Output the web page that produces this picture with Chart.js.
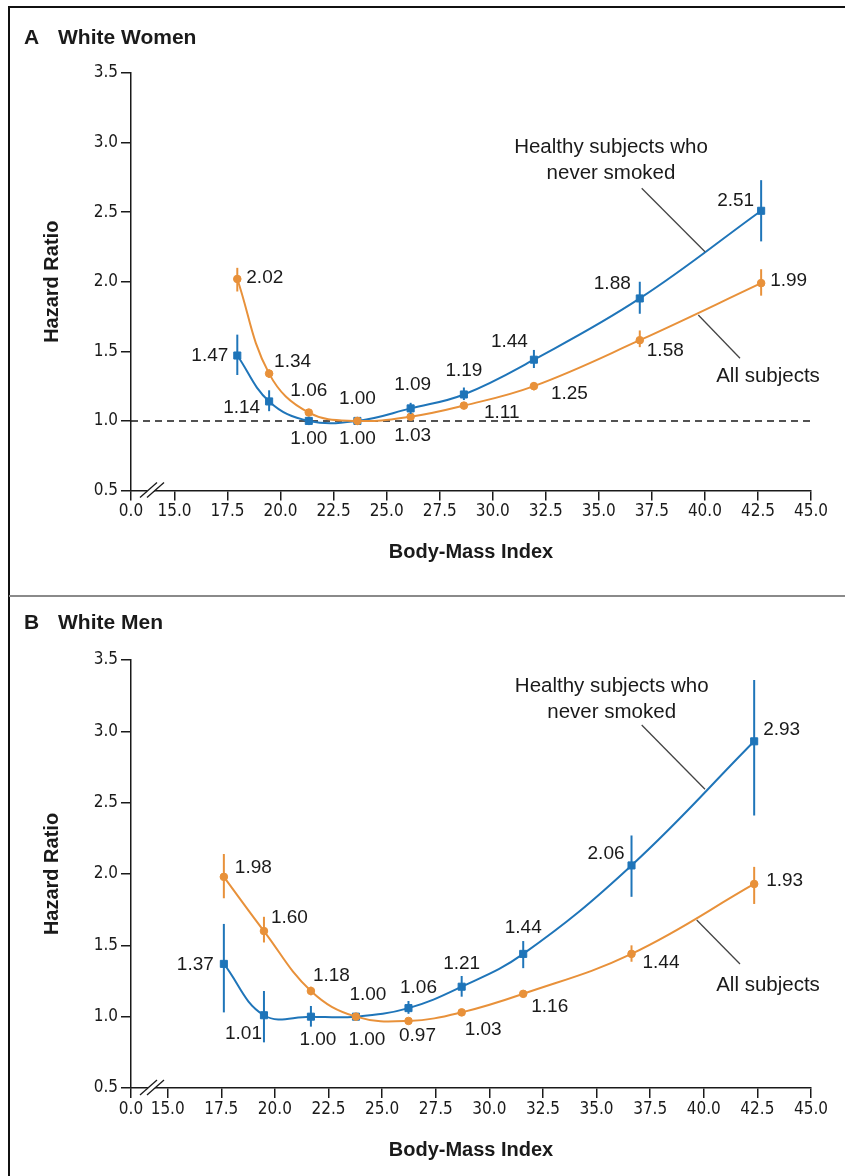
<!DOCTYPE html>
<html>
<head>
<meta charset="utf-8">
<script src="https://cdn.jsdelivr.net/npm/chart.js@4.4.1/dist/chart.umd.min.js"></script>
<style>
  body { margin: 0; background: #fff; }
  #wrap { position: relative; width: 845px; height: 1176px; overflow: hidden; }
  canvas { position: absolute; left: 0; }
  #cA { top: 0; }
  #cB { top: 596px; }
  .ln { position: absolute; background: #111; }
</style>
</head>
<body>
<div id="wrap">
  <canvas id="cA" width="845" height="596"></canvas>
  <canvas id="cB" width="845" height="580"></canvas>
  <div class="ln" style="left:8px;top:6px;width:837px;height:2px"></div>
  <div class="ln" style="left:8px;top:6px;width:2px;height:1170px"></div>
  <div class="ln" style="left:9px;top:595px;width:836px;height:2px;background:#8a8a8a"></div>
</div>
<script>
// axis ticks
const xTicks = [15.0, 17.5, 20.0, 22.5, 25.0, 27.5, 30.0, 32.5, 35.0, 37.5, 40.0, 42.5, 45.0];
const xBreakLabel = '0.0';
const yTicks = [0.5, 1.0, 1.5, 2.0, 2.5, 3.0, 3.5];

// A - white women
const bmiWomen       = [17.96, 19.46, 21.33, 23.62, 26.13, 28.64, 31.94, 36.93, 42.65];
const healthyWomen   = [1.47, 1.14, 1.00, 1.00, 1.09, 1.19, 1.44, 1.88, 2.51];
const healthyWomenLo = [1.33, 1.07, 0.97, null, 1.05, 1.15, 1.38, 1.77, 2.29];
const healthyWomenHi = [1.62, 1.22, 1.03, null, 1.13, 1.24, 1.51, 2.00, 2.73];
const allWomen       = [2.02, 1.34, 1.06, 1.00, 1.03, 1.11, 1.25, 1.58, 1.99];
const allWomenLo     = [1.93, 1.31, 1.04, null, 1.02, 1.09, 1.22, 1.53, 1.90];
const allWomenHi     = [2.10, 1.37, 1.08, null, 1.04, 1.13, 1.28, 1.65, 2.09];

// B - white men
const bmiMen       = [17.62, 19.49, 21.68, 23.78, 26.23, 28.71, 31.58, 36.63, 42.35];
const healthyMen   = [1.37, 1.01, 1.00, 1.00, 1.06, 1.21, 1.44, 2.06, 2.93];
const healthyMenLo = [1.03, 0.82, 0.93, null, 1.02, 1.14, 1.34, 1.84, 2.41];
const healthyMenHi = [1.65, 1.18, 1.075, null, 1.11, 1.285, 1.53, 2.27, 3.36];
const allMen       = [1.98, 1.60, 1.18, 1.00, 0.97, 1.03, 1.16, 1.44, 1.93];
const allMenLo     = [1.83, 1.52, 1.15, null, 0.96, 1.01, 1.14, 1.385, 1.79];
const allMenHi     = [2.14, 1.70, 1.21, null, 0.98, 1.05, 1.18, 1.50, 2.05];

// value label placement next to each marker: [dx, dy, align]
const healthyWomenLabelAt = [[-9,0,'right'],[-9,6,'right'],[0,18,'center'],[0,-22,'center'],[2,-24,'center'],[0,-24,'center'],[-6,-18,'right'],[-9,-15,'right'],[-7,-10,'right']];
const allWomenLabelAt = [[9,-1,'left'],[5,-12,'left'],[0,-22,'center'],[0,18,'center'],[2,19,'center'],[20,7,'left'],[17,8,'left'],[7,11,'left'],[9,-2,'left']];
const healthyMenLabelAt = [[-10,1,'right'],[-2,19,'right'],[7,23,'center'],[12,-22,'center'],[10,-20,'center'],[0,-23,'center'],[0,-26,'center'],[-7,-12,'right'],[9,-12,'left']];
const allMenLabelAt = [[11,-9,'left'],[7,-13,'left'],[2,-15,'left'],[11,23,'center'],[9,15,'center'],[3,17,'left'],[8,13,'left'],[11,9,'left'],[12,-3,'left']];

const BLUE = '#1f75b9';
const ORANGE = '#e8913a';
const INK = '#1a1a1a';
const SANS = "'Liberation Sans', Arial, sans-serif";
const NARROW = "'Liberation Sans Narrow', 'DejaVu Sans Condensed', sans-serif";

const decor = {
  id: 'decor',
  beforeDatasetsDraw(chart, args, o) {
    if (!o.refLine) return;
    const { ctx, chartArea: a, scales: { y } } = chart;
    const py = y.getPixelForValue(1);
    ctx.save();
    ctx.strokeStyle = INK;
    ctx.lineWidth = 1.5;
    ctx.setLineDash([7, 5]);
    ctx.beginPath();
    ctx.moveTo(a.left, py);
    ctx.lineTo(a.right + 2, py);
    ctx.stroke();
    ctx.restore();
  },
  afterDatasetsDraw(chart) {
    const { ctx, scales: { x, y } } = chart;
    chart.data.datasets.forEach(ds => {
      ctx.save();
      ctx.strokeStyle = ds.borderColor;
      ctx.lineWidth = 2;
      ds.lo.forEach((lo, j) => {
        if (lo == null) return;
        const px = x.getPixelForValue(ds.data[j].x);
        ctx.beginPath();
        ctx.moveTo(px, y.getPixelForValue(lo));
        ctx.lineTo(px, y.getPixelForValue(ds.hi[j]));
        ctx.stroke();
      });
      ctx.restore();
    });
  },
  afterDraw(chart, args, o) {
    const { ctx, chartArea: a } = chart;
    ctx.save();
    // value labels
    ctx.fillStyle = INK;
    ctx.font = '19px ' + SANS;
    ctx.textBaseline = 'middle';
    chart.data.datasets.forEach((ds, i) => {
      chart.getDatasetMeta(i).data.forEach((pt, j) => {
        const [dx, dy, al] = ds.labelAt[j];
        ctx.textAlign = al;
        ctx.fillText(ds.data[j].y.toFixed(2), pt.x + dx, pt.y + dy);
      });
    });
    // panel heading
    ctx.textAlign = 'left';
    ctx.font = 'bold 21px ' + SANS;
    ctx.fillText(o.letter, 24, o.headY);
    ctx.fillText(o.heading, 58, o.headY);
    // curve annotations
    ctx.textAlign = 'center';
    ctx.font = '20.5px ' + SANS;
    o.notes.forEach(n => n.lines.forEach((t, k) => ctx.fillText(t, n.x, n.y + k * 26)));
    ctx.strokeStyle = '#444';
    ctx.lineWidth = 1.3;
    o.leaders.forEach(([x1, y1, x2, y2]) => {
      ctx.beginPath();
      ctx.moveTo(x1, y1);
      ctx.lineTo(x2, y2);
      ctx.stroke();
    });
    // axis break
    const by = a.bottom;
    ctx.fillStyle = '#fff';
    ctx.beginPath();
    ctx.moveTo(142, by + 5); ctx.lineTo(149, by + 5); ctx.lineTo(160, by - 5); ctx.lineTo(153, by - 5);
    ctx.closePath();
    ctx.fill();
    ctx.strokeStyle = INK;
    ctx.lineWidth = 1.3;
    [[140, 157], [147, 164]].forEach(([x1, x2]) => {
      ctx.beginPath();
      ctx.moveTo(x1, by + 7);
      ctx.lineTo(x2, by - 8);
      ctx.stroke();
    });
    ctx.restore();
  }
};

function series(bmi, vals, lo, hi, labelAt, color, style, radius) {
  return {
    data: bmi.map((b, i) => ({ x: b, y: vals[i] })),
    lo, hi, labelAt,
    borderColor: color,
    backgroundColor: color,
    borderWidth: 2,
    tension: 0.4,
    pointStyle: style,
    pointRadius: radius,
    pointBorderWidth: 1,
    clip: false
  };
}

function panel(id, cfg) {
  return new Chart(document.getElementById(id), {
    type: 'line',
    data: { datasets: cfg.datasets },
    options: {
      responsive: false,
      animation: false,
      events: [],
      layout: { padding: { left: 0, right: 34, top: cfg.padTop, bottom: 0 } },
      plugins: { legend: { display: false }, tooltip: { enabled: false }, decor: cfg.decor },
      scales: {
        x: {
          type: 'linear',
          min: cfg.xMin,
          max: 45,
          afterBuildTicks: s => { s.ticks = [cfg.xMin, ...xTicks].map(v => ({ value: v })); },
          afterFit: s => { s.height = cfg.xAxisH; },
          ticks: {
            autoSkip: false, maxRotation: 0, padding: 1, color: INK,
            font: { family: NARROW, size: 17 },
            callback: v => (v < 15 ? xBreakLabel : v.toFixed(1))
          },
          grid: { drawOnChartArea: false, tickLength: 10, color: INK, lineWidth: 1.5 },
          border: { color: INK, width: 1.5 },
          title: {
            display: true, text: 'Body-Mass Index', color: INK,
            font: { family: SANS, size: 20, weight: 'bold' },
            padding: { top: 0, bottom: cfg.xTitlePad }
          }
        },
        y: {
          min: 0.5,
          max: 3.5,
          afterBuildTicks: s => { s.ticks = yTicks.map(v => ({ value: v })); },
          afterFit: s => { s.width = 131; },
          ticks: {
            padding: 3, color: INK,
            font: { family: NARROW, size: 17 },
            callback: v => v.toFixed(1)
          },
          grid: { drawOnChartArea: false, tickLength: 10, color: INK, lineWidth: 1.5 },
          border: { color: INK, width: 1.5 },
          title: {
            display: true, text: 'Hazard Ratio', color: INK,
            font: { family: SANS, size: 20, weight: 'bold' },
            padding: { top: 40, bottom: 0 }
          }
        }
      }
    },
    plugins: [decor]
  });
}

panel('cA', {
  xMin: 12.95, padTop: 73, xAxisH: 105.5, xTitlePad: 32,
  datasets: [
    series(bmiWomen, allWomen, allWomenLo, allWomenHi, allWomenLabelAt, ORANGE, 'circle', 3.8),
    series(bmiWomen, healthyWomen, healthyWomenLo, healthyWomenHi, healthyWomenLabelAt, BLUE, 'rect', 5)
  ],
  decor: {
    refLine: true, letter: 'A', heading: 'White Women', headY: 38,
    notes: [
      { lines: ['Healthy subjects who', 'never smoked'], x: 611, y: 147 },
      { lines: ['All subjects'], x: 768, y: 376 }
    ],
    leaders: [[641.7, 188.3, 705, 251.7], [698.3, 315, 740, 358.3]]
  }
});

panel('cB', {
  xMin: 13.29, padTop: 64, xAxisH: 88, xTitlePad: 14,
  datasets: [
    series(bmiMen, allMen, allMenLo, allMenHi, allMenLabelAt, ORANGE, 'circle', 3.8),
    series(bmiMen, healthyMen, healthyMenLo, healthyMenHi, healthyMenLabelAt, BLUE, 'rect', 5)
  ],
  decor: {
    refLine: false, letter: 'B', heading: 'White Men', headY: 27,
    notes: [
      { lines: ['Healthy subjects who', 'never smoked'], x: 611.7, y: 90.5 },
      { lines: ['All subjects'], x: 768, y: 389 }
    ],
    leaders: [[641.7, 129, 705, 193.3], [696.7, 324, 740, 368]]
  }
});
</script>
</body>
</html>
